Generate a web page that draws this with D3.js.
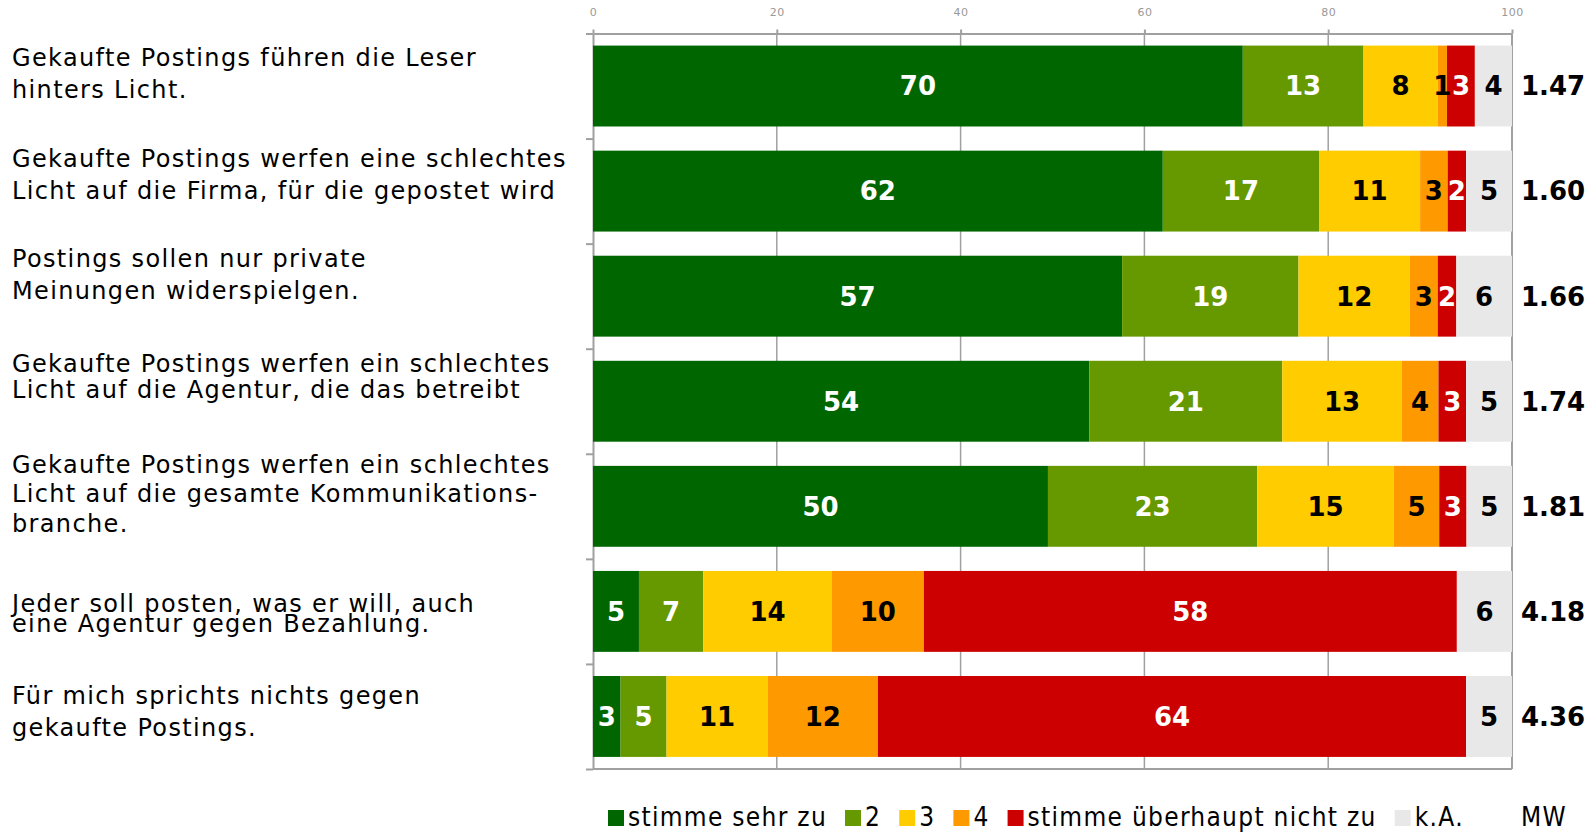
<!DOCTYPE html>
<html>
<head>
<meta charset="utf-8">
<script src="https://cdn.jsdelivr.net/npm/d3@7"></script>
<style>
  body { margin: 0; background: #fff; }
  svg { display: block; }
</style>
</head>
<body>
<div></div>
<script>
// statements (label lines as shown)
const statements = [
  ['Gekaufte Postings führen die Leser', 'hinters Licht.'],
  ['Gekaufte Postings werfen eine schlechtes', 'Licht auf die Firma, für die gepostet wird'],
  ['Postings sollen nur private', 'Meinungen widerspielgen.'],
  ['Gekaufte Postings werfen ein schlechtes', 'Licht auf die Agentur, die das betreibt'],
  ['Gekaufte Postings werfen ein schlechtes', 'Licht auf die gesamte Kommunikations-', 'branche.'],
  ['Jeder soll posten, was er will, auch', 'eine Agentur gegen Bezahlung.'],
  ['Für mich sprichts nichts gegen', 'gekaufte Postings.']
]

const seriesNames = ['stimme sehr zu', '2', '3', '4', 'stimme überhaupt nicht zu', 'k.A.']

const sehrZu      = [70, 62, 57, 54, 50, 5, 3]
const zwei        = [13, 17, 19, 21, 23, 7, 5]
const drei        = [8, 11, 12, 13, 15, 14, 11]
const vier        = [1, 3, 3, 4, 5, 10, 12]
const nichtZu     = [3, 2, 2, 3, 3, 58, 64]
const keineAngabe = [4, 5, 6, 5, 5, 6, 5]

const mwValues = ['1.47', '1.60', '1.66', '1.74', '1.81', '4.18', '4.36']
const xTicks = [0, 20, 40, 60, 80, 100]

const colors = ['#006600', '#669900', '#ffcc00', '#ff9900', '#cc0000', '#e8e8e8']
const textColors = ['#fff', '#fff', '#000', '#000', '#fff', '#000']

// label placement per row: first baseline below bar top, line gap
const labelLayout = [[20, 32], [16, 32], [11, 32], [11, 26], [7, 29.5], [41, 20], [28, 32]]

const width = 1593
const height = 833
const plotLeft = 593
const plotRight = 1512
const plotTop = 33.5
const plotBottom = 769

const svg = d3.select('div')
  .append('svg')
  .attr('width', width)
  .attr('height', height)

// table for the stack
const keys = ['s0', 's1', 's2', 's3', 's4', 's5']
const series = [sehrZu, zwei, drei, vier, nichtZu, keineAngabe]
const rows = statements.map((s, i) => {
  const r = { idx: i }
  keys.forEach((k, j) => { r[k] = series[j][i] })
  return r
})

const stacked = d3.stack()
  .keys(keys)
  .offset(d3.stackOffsetExpand)(rows)

const x = d3.scaleLinear()
  .domain([0, 100])
  .range([plotLeft, plotRight])

const y = d3.scaleBand()
  .domain(d3.range(statements.length))
  .range([plotTop, plotBottom])
  .paddingInner(0.23)
  .paddingOuter(0.115)

const yEdge = d3.scaleLinear()
  .domain([0, statements.length])
  .range([plotTop, plotBottom])

const axisColor = '#a0a0a0'

// grid lines
svg.append('g')
  .selectAll('line')
  .data(xTicks.slice(1, -1))
  .enter()
  .append('line')
  .attr('x1', d => x(d))
  .attr('x2', d => x(d))
  .attr('y1', plotTop)
  .attr('y2', plotBottom)
  .attr('stroke', axisColor)
  .attr('stroke-width', 1.5)

// top axis
const xAxis = d3.axisTop(x)
  .tickValues(xTicks)
  .tickSize(4)
  .tickPadding(13.5)
  .tickSizeOuter(0)
svg.append('g')
  .attr('transform', `translate(0, ${plotTop})`)
  .call(xAxis)
  .call(g => g.selectAll('path, line').attr('stroke', axisColor).attr('stroke-width', 2))
  .call(g => g.selectAll('text')
    .attr('fill', '#999')
    .style('font-family', 'DejaVu Sans, Verdana, sans-serif')
    .style('font-size', '11px')
    .style('letter-spacing', '0.5px'))

// left axis with ticks between the bars
const yAxis = d3.axisLeft(yEdge)
  .tickValues(d3.range(statements.length + 1))
  .tickFormat('')
  .tickSize(7)
  .tickSizeOuter(0)
svg.append('g')
  .attr('transform', `translate(${plotLeft}, 0)`)
  .call(yAxis)
  .call(g => g.selectAll('path, line').attr('stroke', axisColor).attr('stroke-width', 2))

// right and bottom border
svg.append('line')
  .attr('x1', x(100)).attr('x2', x(100))
  .attr('y1', plotTop).attr('y2', plotBottom)
  .attr('stroke', axisColor).attr('stroke-width', 2)
svg.append('line')
  .attr('x1', plotLeft).attr('x2', x(100))
  .attr('y1', plotBottom).attr('y2', plotBottom)
  .attr('stroke', axisColor).attr('stroke-width', 2)

// bars
const layer = svg.append('g')
  .selectAll('g')
  .data(stacked)
  .enter()
  .append('g')
  .attr('fill', (d, i) => colors[i])

layer.selectAll('rect')
  .data(d => d)
  .enter()
  .append('rect')
  .attr('x', d => x(d[0] * 100))
  .attr('width', d => x(d[1] * 100) - x(d[0] * 100))
  .attr('y', d => y(d.data.idx))
  .attr('height', y.bandwidth())

// value labels
const valueFont = 'DejaVu Sans, Verdana, sans-serif'
stacked.forEach((s, si) => {
  svg.append('g')
    .selectAll('text')
    .data(s)
    .enter()
    .append('text')
    .text(d => d.data[keys[si]])
    .attr('x', d => x((d[0] + d[1]) / 2 * 100))
    .attr('y', d => y(d.data.idx) + y.bandwidth() / 2)
    .attr('dy', '0.36em')
    .attr('text-anchor', 'middle')
    .attr('fill', textColors[si])
    .style('font-family', valueFont)
    .style('font-weight', 'bold')
    .style('font-size', '26px')
})

// mean values
svg.append('g')
  .selectAll('text')
  .data(mwValues)
  .enter()
  .append('text')
  .text(d => d)
  .attr('x', 1521)
  .attr('y', (d, i) => y(i) + y.bandwidth() / 2)
  .attr('dy', '0.36em')
  .style('font-family', valueFont)
  .style('font-weight', 'bold')
  .style('font-size', '26px')

// statement labels
statements.forEach((lines, i) => {
  const [off, gap] = labelLayout[i]
  const t = svg.append('text')
    .attr('x', 12)
    .attr('y', y(i) + off)
    .style('font-family', 'DejaVu Sans, Verdana, sans-serif')
    .style('font-size', '24px')
    .style('letter-spacing', '1.35px')
    .attr('fill', '#000')
  lines.forEach((line, li) => {
    t.append('tspan')
      .attr('x', 12)
      .attr('y', y(i) + off + li * gap)
      .text(line)
  })
})

// legend
const legend = svg.append('g')
const legendFont = 'DejaVu Sans Condensed, DejaVu Sans, sans-serif'
let lx = 608
const ly = 826
seriesNames.forEach((name, i) => {
  legend.append('rect')
    .attr('x', lx)
    .attr('y', ly - 16)
    .attr('width', 16)
    .attr('height', 16)
    .attr('fill', colors[i])
  const txt = legend.append('text')
    .attr('x', lx + 20)
    .attr('y', ly)
    .text(name)
    .style('font-family', legendFont)
    .style('font-stretch', 'condensed')
    .style('font-size', '26px')
    .style('letter-spacing', '1.3px')
  lx = lx + 20 + txt.node().getComputedTextLength() + 18
})
legend.append('text')
  .attr('x', 1521)
  .attr('y', ly)
  .text('MW')
  .style('font-family', legendFont)
  .style('font-stretch', 'condensed')
  .style('font-size', '26px')
  .style('letter-spacing', '1.3px')
</script>
</body>
</html>
